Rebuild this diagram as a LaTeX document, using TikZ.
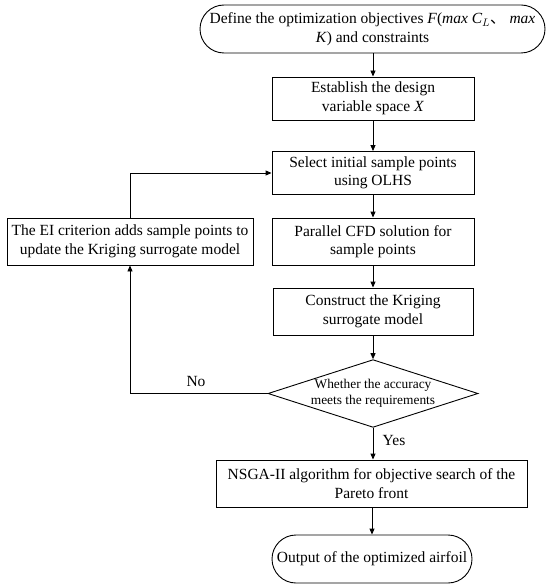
\documentclass[tikz,border=0pt]{standalone}
\usepackage{fontspec}
\setmainfont{Liberation Serif}
\newfontfamily\cjk{Noto Sans CJK SC}
\usetikzlibrary{shapes.geometric,arrows.meta,calc}
\begin{document}
\begin{tikzpicture}[x=1pt,y=-1pt,
  box/.style={draw,line width=0.9pt,align=center,inner sep=0pt,font=\fontsize{15.5}{18.5}\selectfont},
  term/.style={box,rounded corners=24pt},
  dia/.style={draw,line width=0.9pt,diamond,aspect=3.1,inner sep=0pt,align=center,font=\fontsize{13.4}{15.5}\selectfont},
  arr/.style={line width=0.9pt,-{Triangle[length=6pt,width=5pt]}},
  lab/.style={font=\fontsize{15.5}{18}\selectfont}]
\useasboundingbox (0,0) rectangle (550,588);
\node[term,minimum width=345pt,minimum height=48pt] (top) at (372.5,29)
  {Define the optimization objectives \textit{F}(\textit{max C$_L$}{\cjk 、} \textit{max}\\\textit{K}) and constraints};
\node[box,minimum width=202pt,minimum height=43pt] (b2) at (373,98.5) {Establish the design\\variable space \textit{X}};
\node[box,minimum width=202pt,minimum height=43pt] (b3) at (373,173) {Select initial sample points\\using OLHS};
\node[box,minimum width=202pt,minimum height=47pt] (b4) at (373,241.5) {Parallel CFD solution for\\sample points};
\node[box,minimum width=246pt,minimum height=47pt] (ei) at (130,241.5) {The EI criterion adds sample points to\\update the Kriging surrogate model};
\node[box,minimum width=200pt,minimum height=47pt] (b5) at (373,311.5) {Construct the Kriging\\surrogate model};
\node[dia,minimum width=210pt,minimum height=67pt] (d) at (373,393.5) {Whether the accuracy\\meets the requirements};
\node[box,minimum width=311pt,minimum height=47pt] (ns) at (371.5,483.5) {NSGA-II algorithm for objective search of the\\Pareto front};
\node[term,minimum width=200pt,minimum height=48pt] (out) at (372,559) {Output of the optimized airfoil};
\node[lab] (no) at (196,381) {No};
\node[lab] (yes) at (394,440) {Yes};
\draw[arr] (top.south -| b2.north) -- (b2.north);
\draw[arr] (b2) -- (b3);
\draw[arr] (b3) -- (b4);
\draw[arr] (b4.south) -- (b4.south |- b5.north);
\draw[arr] (b5.south -| d.north) -- (d.north);
\draw[arr] (d.south) -- (d.south |- ns.north);
\draw[arr] (ns.south -| out.north) -- (out.north);
\draw[arr] (d.west) -| (ei.south);
\draw[arr] (ei.north) |- (b3.west);
\end{tikzpicture}
\end{document}
